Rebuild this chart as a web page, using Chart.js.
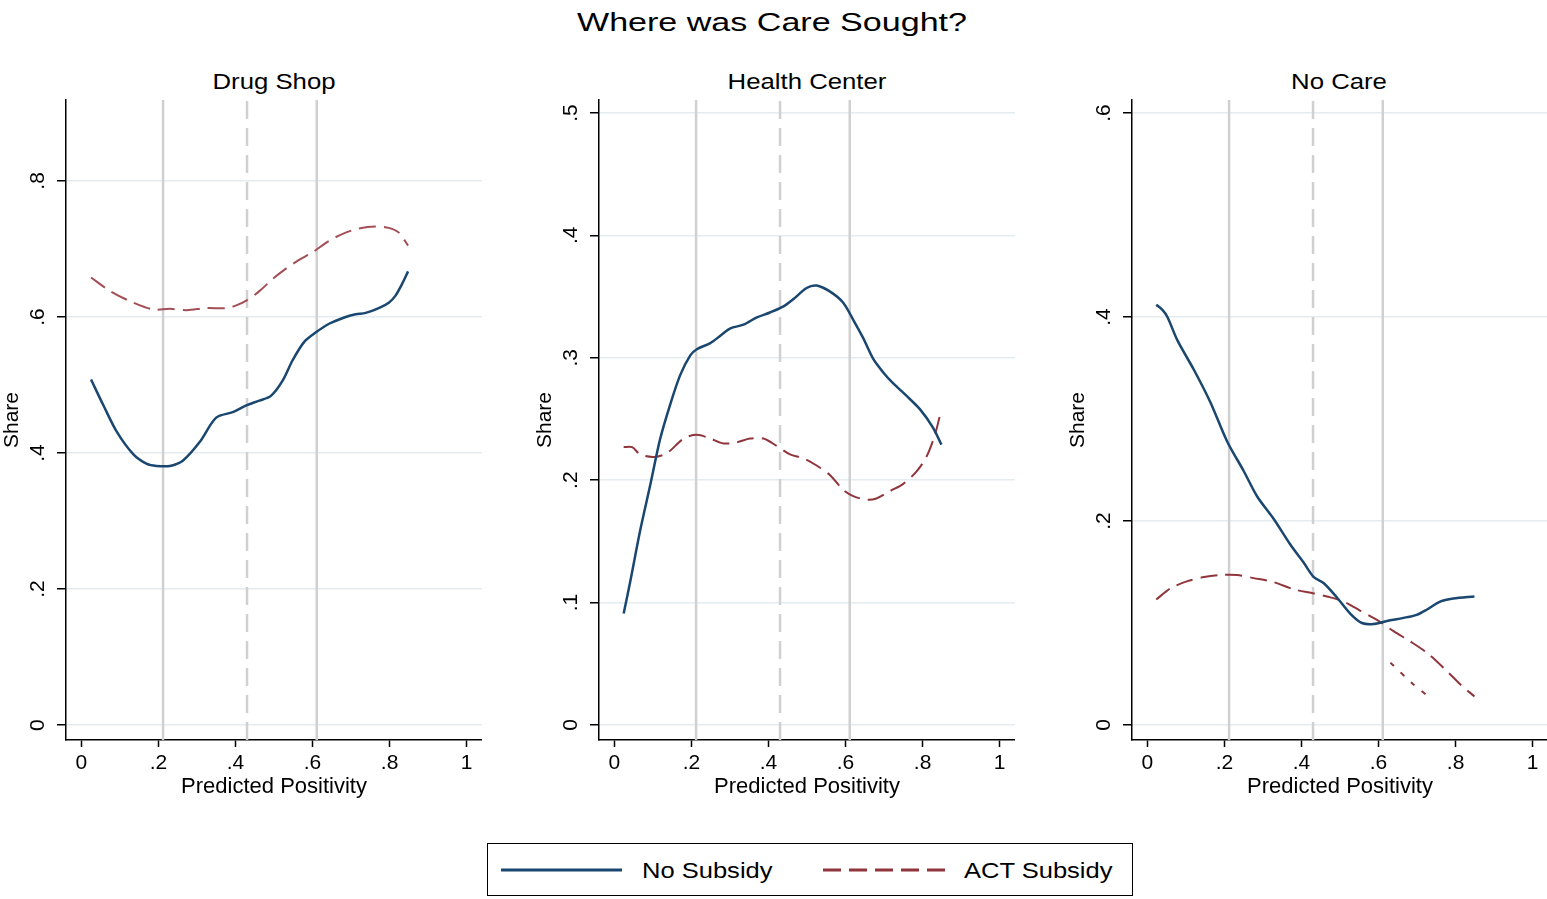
<!DOCTYPE html>
<html>
<head>
<meta charset="utf-8">
<script src="https://cdn.jsdelivr.net/npm/chart.js@4.4.1/dist/chart.umd.min.js"></script>
<style>
  body { margin: 0; background: #fff; width: 1547px; height: 899px; position: relative; overflow: hidden;
         font-family: "Liberation Sans", Arial, sans-serif; color: #000; }
  canvas { position: absolute; top: 75px; }
  .txt { position: absolute; white-space: nowrap; line-height: 1; }
  #legend { position: absolute; left: 487px; top: 843px; width: 644px; height: 51px; border: 1.5px solid #000; }
</style>
</head>
<body>
<div class="txt" id="mainTitle" style="left:772px; top:9px; font-size:26px; transform: translateX(-50%) scaleX(1.31);">Where was Care Sought?</div>
<div class="txt ptitle" style="left:274px; top:71px; font-size:22px; transform: translateX(-50%) scaleX(1.17);">Drug Shop</div>
<div class="txt ptitle" style="left:807px; top:71px; font-size:22px; transform: translateX(-50%) scaleX(1.17);">Health Center</div>
<div class="txt ptitle" style="left:1339px; top:71px; font-size:22px; transform: translateX(-50%) scaleX(1.17);">No Care</div>

<canvas id="c1" width="482" height="735" style="left:0px"></canvas>
<canvas id="c2" width="482" height="735" style="left:533px"></canvas>
<canvas id="c3" width="482" height="735" style="left:1066px"></canvas>

<div id="legend">
  <svg width="644" height="51" style="position:absolute;left:0;top:0">
    <line x1="13" y1="26" x2="134" y2="26" stroke="#1a476f" stroke-width="3"/>
    <line x1="335" y1="26" x2="458" y2="26" stroke="#90353b" stroke-width="3" stroke-dasharray="18 8"/>
  </svg>
  <div class="txt" style="left:154px; top:16px; font-size:22px; transform-origin: left center; transform: scaleX(1.16);">No Subsidy</div>
  <div class="txt" style="left:476px; top:16px; font-size:22px; transform-origin: left center; transform: scaleX(1.16);">ACT Subsidy</div>
</div>

<script>
// x axis ticks (shared)
const xTicks = [0, 0.2, 0.4, 0.6, 0.8, 1];
const xTickLabels = ["0", ".2", ".4", ".6", ".8", "1"];

// reference lines (predicted positivity cut-offs)
const solidRefs = [0.212, 0.611];
const dashedRefs = [0.43];

// Drug Shop
const drugYTicks = [0, 0.2, 0.4, 0.6, 0.8];
const drugYLabels = ["0", ".2", ".4", ".6", ".8"];
const drugRange = [-0.022, 0.919];
const drugNoX = [0.025, 0.058, 0.092, 0.135, 0.170, 0.195, 0.230, 0.264, 0.307, 0.350, 0.393, 0.428, 0.462, 0.492, 0.522, 0.548, 0.578, 0.608, 0.643, 0.686, 0.712, 0.738, 0.772, 0.798, 0.815, 0.832, 0.848];
const drugNoY = [0.508, 0.469, 0.431, 0.398, 0.384, 0.381, 0.381, 0.389, 0.416, 0.452, 0.460, 0.470, 0.477, 0.484, 0.506, 0.536, 0.563, 0.577, 0.590, 0.600, 0.604, 0.606, 0.613, 0.621, 0.631, 0.648, 0.667];
const drugActX = [0.025, 0.075, 0.135, 0.187, 0.230, 0.273, 0.324, 0.376, 0.402, 0.428, 0.462, 0.497, 0.531, 0.565, 0.600, 0.643, 0.686, 0.720, 0.763, 0.798, 0.824, 0.848];
const drugActY = [0.658, 0.638, 0.621, 0.611, 0.612, 0.610, 0.613, 0.613, 0.617, 0.624, 0.638, 0.656, 0.671, 0.684, 0.695, 0.712, 0.724, 0.730, 0.733, 0.731, 0.724, 0.705];

// Health Center
const hcYTicks = [0, 0.1, 0.2, 0.3, 0.4, 0.5];
const hcYLabels = ["0", ".1", ".2", ".3", ".4", ".5"];
const hcRange = [-0.0123, 0.5106];
const hcNoX = [0.024, 0.041, 0.067, 0.093, 0.119, 0.145, 0.171, 0.197, 0.214, 0.249, 0.275, 0.301, 0.335, 0.370, 0.404, 0.439, 0.465, 0.499, 0.525, 0.560, 0.594, 0.620, 0.646, 0.672, 0.698, 0.724, 0.758, 0.793, 0.827, 0.849];
const hcNoY = [0.091, 0.117, 0.159, 0.196, 0.234, 0.262, 0.286, 0.302, 0.307, 0.312, 0.318, 0.324, 0.327, 0.333, 0.337, 0.342, 0.348, 0.357, 0.359, 0.354, 0.345, 0.331, 0.316, 0.299, 0.288, 0.279, 0.269, 0.258, 0.243, 0.229];
const hcActX = [0.024, 0.046, 0.067, 0.102, 0.136, 0.180, 0.214, 0.249, 0.283, 0.318, 0.352, 0.387, 0.421, 0.456, 0.490, 0.525, 0.560, 0.594, 0.620, 0.655, 0.680, 0.715, 0.750, 0.784, 0.810, 0.832, 0.846];
const hcActY = [0.227, 0.227, 0.221, 0.219, 0.222, 0.234, 0.237, 0.234, 0.230, 0.231, 0.234, 0.234, 0.228, 0.221, 0.218, 0.212, 0.204, 0.192, 0.187, 0.184, 0.185, 0.191, 0.197, 0.207, 0.219, 0.237, 0.254];

// No Care
const ncYTicks = [0, 0.2, 0.4, 0.6];
const ncYLabels = ["0", ".2", ".4", ".6"];
const ncRange = [-0.0147, 0.6127];
const ncNoX = [0.023, 0.039, 0.052, 0.078, 0.121, 0.164, 0.207, 0.250, 0.285, 0.328, 0.371, 0.406, 0.432, 0.458, 0.492, 0.527, 0.557, 0.587, 0.622, 0.665, 0.699, 0.725, 0.760, 0.794, 0.849];
const ncNoY = [0.412, 0.407, 0.400, 0.377, 0.348, 0.316, 0.278, 0.249, 0.224, 0.202, 0.177, 0.159, 0.145, 0.139, 0.125, 0.109, 0.100, 0.099, 0.102, 0.105, 0.108, 0.113, 0.121, 0.124, 0.126];
const ncActX = [0.023, 0.060, 0.104, 0.147, 0.190, 0.233, 0.276, 0.328, 0.380, 0.432, 0.466, 0.509, 0.553, 0.596, 0.639, 0.682, 0.725, 0.769, 0.812, 0.849];
const ncActY = [0.123, 0.134, 0.141, 0.145, 0.147, 0.147, 0.144, 0.140, 0.133, 0.129, 0.126, 0.121, 0.112, 0.103, 0.092, 0.082, 0.071, 0.056, 0.040, 0.028];
const ncStrayX = [0.631, 0.690, 0.726];
const ncStrayY = [0.061, 0.040, 0.029];

const NAVY = "#1a476f";
const MAROON = "#90353b";

Chart.defaults.font.family = '"Liberation Sans", Arial, sans-serif';
Chart.defaults.color = "#000";

function pts(xs, ys) {
    return xs.map((x, i) => ({ x: x, y: ys[i] }));
}

function refLine(x, range, dashed) {
    return {
        data: [{ x: x, y: range[0] }, { x: x, y: range[1] }],
        borderColor: "#d0d0d0",
        borderWidth: 2.5,
        borderDash: dashed ? [18, 9] : [],
        pointRadius: 0,
        tension: 0
    };
}

function makePanel(id, range, yTicks, yLabels, series, actColor) {
    const datasets = [
        { data: pts(series[0], series[1]), borderColor: NAVY, borderWidth: 2.5, pointRadius: 0, tension: 0.3 },
        { data: pts(series[2], series[3]), borderColor: actColor, borderWidth: 2, borderDash: [17, 8], pointRadius: 0, tension: 0.3 }
    ];
    if (series[4]) {
        datasets.push({ data: pts(series[4], series[5]), borderColor: MAROON, borderWidth: 2, borderDash: [5, 9], pointRadius: 0, tension: 0.3 });
    }
    solidRefs.forEach(x => datasets.push(refLine(x, range, false)));
    dashedRefs.forEach(x => datasets.push(refLine(x, range, true)));

    new Chart(document.getElementById(id), {
        type: "line",
        data: { datasets: datasets },
        options: {
            responsive: false,
            animation: false,
            events: [],
            layout: { padding: { top: 25, left: 0, right: 0, bottom: 0 } },
            plugins: { legend: { display: false }, tooltip: { enabled: false } },
            scales: {
                x: {
                    type: "linear",
                    min: -0.04,
                    max: 1.04,
                    afterFit: s => { s.height = 70; },
                    afterBuildTicks: s => { s.ticks = xTicks.map(v => ({ value: v })); },
                    grid: { drawOnChartArea: false, tickLength: 7, tickColor: "#000", tickWidth: 1.5 },
                    border: { color: "#000", width: 1.5 },
                    ticks: {
                        padding: 4,
                        maxRotation: 0,
                        font: { size: 21 },
                        callback: (v, i) => xTickLabels[i]
                    },
                    title: { display: true, text: "Predicted Positivity", font: { size: 22 }, padding: { top: 0, bottom: 10 } }
                },
                y: {
                    type: "linear",
                    min: range[0],
                    max: range[1],
                    afterFit: s => { s.width = 66; },
                    afterBuildTicks: s => { s.ticks = yTicks.map(v => ({ value: v })); },
                    grid: { color: "#e4ecef", lineWidth: 1.5, tickLength: 9, tickColor: "#000", tickWidth: 1.5 },
                    border: { color: "#000", width: 1.5 },
                    ticks: {
                        minRotation: 90,
                        maxRotation: 90,
                        crossAlign: "center",
                        padding: 10,
                        font: { size: 21 },
                        callback: (v, i) => yLabels[i]
                    },
                    title: { display: true, text: "Share", font: { size: 21 }, padding: { top: 0, bottom: 0 } }
                }
            }
        }
    });
}

makePanel("c1", drugRange, drugYTicks, drugYLabels, [drugNoX, drugNoY, drugActX, drugActY], "#a34e55");
makePanel("c2", hcRange, hcYTicks, hcYLabels, [hcNoX, hcNoY, hcActX, hcActY], MAROON);
makePanel("c3", ncRange, ncYTicks, ncYLabels, [ncNoX, ncNoY, ncActX, ncActY, ncStrayX, ncStrayY], MAROON);
</script>
</body>
</html>
